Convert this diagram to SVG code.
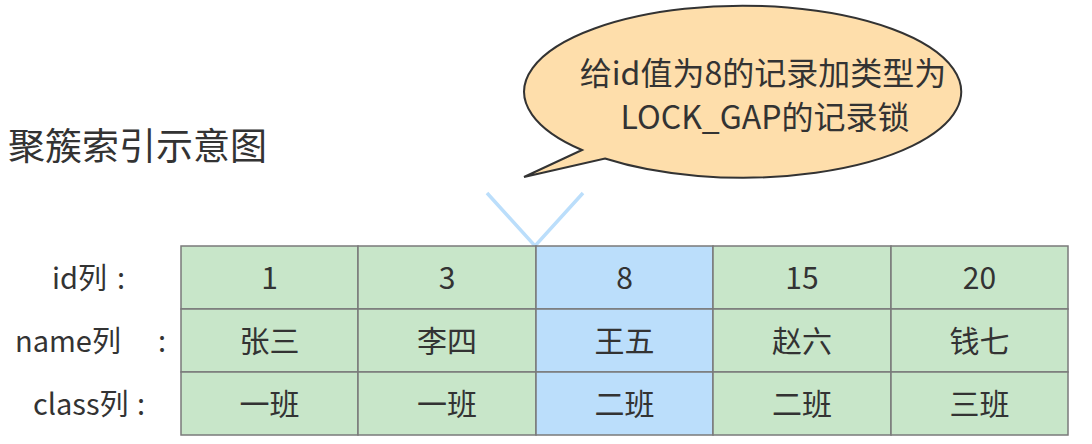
<svg xmlns="http://www.w3.org/2000/svg" width="1092" height="444" viewBox="0 0 1092 444">
<style>
text{font-family:"Noto Sans CJK SC","Noto Sans",sans-serif;fill:#333}
.title{font-size:37px}
.bub{font-size:32px;text-anchor:middle}
.lbl{font-size:29px}
.cell text{font-size:30px;text-anchor:middle}
.g{fill:#c8e6c9;stroke:#7a7a7a;stroke-width:1.5}
.b{fill:#bbdefb;stroke:#7a7a7a;stroke-width:1.5}
</style>
<rect width="1092" height="444" fill="#fff"/>
<g id="title"><text class="title" x="8" y="160">聚簇索引示意图</text></g>
<g id="bubble">
<path d="M582,150 L524,177 L605,158.5 A218.5,86 0 1 0 582,150 Z" fill="#fedeab" stroke="#333" stroke-width="2" stroke-linejoin="miter"/>
<text class="bub" x="763" y="85">给id值为8的记录加类型为</text>
<text class="bub" x="765" y="129">LOCK_GAP的记录锁</text>
</g>
<g id="connectors">
<polyline points="487,193 535,246 583,193" fill="none" stroke="#bbdefb" stroke-width="3.5"/>
</g>
<g id="labels">
<text class="lbl" x="52" y="289">id列<tspan x="117">:</tspan></text>
<text class="lbl" x="15" y="352">name列<tspan x="158">:</tspan></text>
<text class="lbl" x="33" y="415">class列<tspan x="137">:</tspan></text>
</g>
<g id="col1" class="cell">
<rect class="g" x="181" y="246" width="177" height="63"/><text x="269.5" y="289">1</text>
<rect class="g" x="181" y="309" width="177" height="63"/><text x="269.5" y="352">张三</text>
<rect class="g" x="181" y="372" width="177" height="63"/><text x="269.5" y="415">一班</text>
</g>
<g id="col2" class="cell">
<rect class="g" x="358" y="246" width="178" height="63"/><text x="447" y="289">3</text>
<rect class="g" x="358" y="309" width="178" height="63"/><text x="447" y="352">李四</text>
<rect class="g" x="358" y="372" width="178" height="63"/><text x="447" y="415">一班</text>
</g>
<g id="col3" class="cell">
<rect class="b" x="536" y="246" width="177" height="63"/><text x="624.5" y="289">8</text>
<rect class="b" x="536" y="309" width="177" height="63"/><text x="624.5" y="352">王五</text>
<rect class="b" x="536" y="372" width="177" height="63"/><text x="624.5" y="415">二班</text>
</g>
<g id="col4" class="cell">
<rect class="g" x="713" y="246" width="178" height="63"/><text x="802" y="289">15</text>
<rect class="g" x="713" y="309" width="178" height="63"/><text x="802" y="352">赵六</text>
<rect class="g" x="713" y="372" width="178" height="63"/><text x="802" y="415">二班</text>
</g>
<g id="col5" class="cell">
<rect class="g" x="891" y="246" width="177" height="63"/><text x="979.5" y="289">20</text>
<rect class="g" x="891" y="309" width="177" height="63"/><text x="979.5" y="352">钱七</text>
<rect class="g" x="891" y="372" width="177" height="63"/><text x="979.5" y="415">三班</text>
</g>
</svg>
